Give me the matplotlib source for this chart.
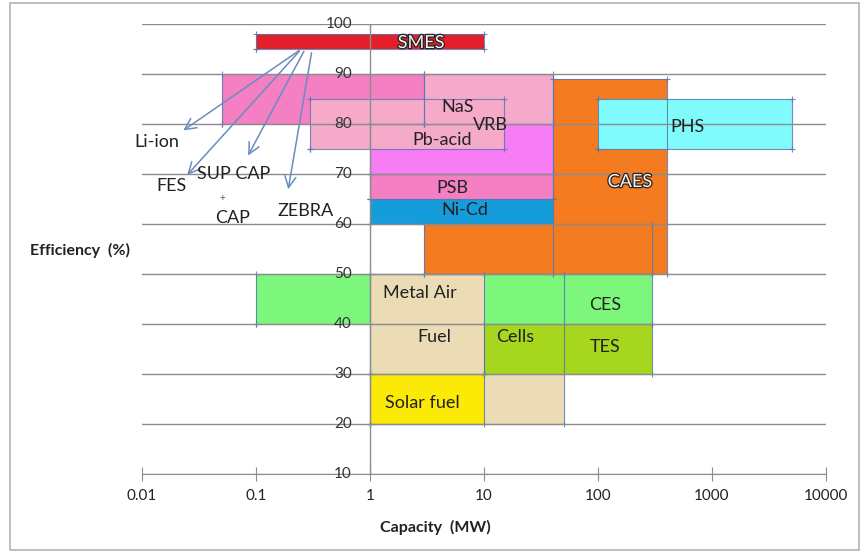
import numpy as np
import matplotlib
matplotlib.use("Agg")
import matplotlib.pyplot as plt
import matplotlib.patheffects as pe
from matplotlib.patches import Rectangle

plt.rcParams['font.family'] = ['Lato', 'DejaVu Sans']

# blocks: capacity range (MW) and efficiency range (%), drawn in this order
blocks = ['CAES low', 'CAES', 'Li-ion', 'NaS', 'VRB', 'Pb-acid', 'PSB', 'Ni-Cd', 'PHS', 'SMES',
          'Fuel Cells', 'CES', 'Metal Air', 'TES', 'Solar fuel']
cap_lo = [3, 40, 0.05, 3, 1, 0.3, 1, 1, 100, 0.1, 1, 0.1, 1, 10, 1]
cap_hi = [300, 400, 3, 40, 40, 15, 40, 40, 5000, 10, 50, 300, 10, 300, 10]
eff_lo = [50, 50, 80, 80, 70, 75, 65, 60, 75, 95, 20, 40, 30, 30, 20]
eff_hi = [60, 89, 90, 90, 80, 85, 70, 65, 85, 98, 50, 50, 50, 40, 30]
colors = ['#f57b20', '#f57b20', '#f47fc2', '#f6aac9', '#f67df4', '#f6aac9', '#f47fc2', '#159ddb',
          '#80fbfb', '#e3202a', '#ecdcb6', '#7cf77c', '#ecdcb6', '#a6d61e', '#fbe906']

# text labels
lab_text = ['SMES', 'NaS', 'VRB', 'Pb-acid', 'PSB', 'Ni-Cd', 'CAES', 'PHS', 'Metal Air', 'Fuel',
            'Cells', 'CES', 'TES', 'Solar fuel', 'Li-ion', 'FES', 'SUP CAP', '+', 'CAP', 'ZEBRA']
lab_x = [2.8, 5.9, 11.3, 4.3, 5.3, 6.8, 190, 615, 2.75, 3.7,
         18.7, 115, 115, 2.9, 0.0135, 0.018, 0.064, 0.051, 0.062, 0.27]
lab_y = [96.2, 83.4, 79.8, 76.8, 67.2, 62.8, 68.4, 79.4, 46.2, 37.4,
         37.4, 43.8, 35.4, 24.2, 76.4, 67.6, 70.0, 65.2, 61.2, 62.6]

# arrows from SMES bar to the small devices
arr_from = [(0.25, 95), (0.25, 95), (0.27, 95), (0.31, 94.8)]
arr_to = [(0.022, 78.4), (0.024, 69.4), (0.083, 73.2), (0.19, 66.4)]

xticks = [0.01, 0.1, 1, 10, 100, 1000, 10000]
xticklabels = ['0.01', '0.1', '1', '10', '100', '1000', '10000']
yticks = list(range(10, 101, 10))

fig = plt.figure(figsize=(8.62, 5.52), dpi=100)
ax = fig.add_axes([142/862, 1-474/552, 684/862, 450/552])
ax.set_xscale('log')
ax.set_xlim(0.01, 10000)
ax.set_ylim(10, 100)

edge = '#5a78b0'
for i in range(len(blocks)):
    x0, x1, y0, y1 = cap_lo[i], cap_hi[i], eff_lo[i], eff_hi[i]
    ax.add_patch(Rectangle((x0, y0), x1-x0, y1-y0, facecolor=colors[i], edgecolor='none', zorder=1))
    ax.plot([x0, x1, x1, x0, x0], [y0, y0, y1, y1, y0], color=edge, lw=0.8, alpha=0.85,
            marker='+', ms=4, mew=0.8, zorder=1.5)

# grid and axes lines
for v in yticks:
    ax.axhline(v, color='#8c8c8c', lw=1, zorder=2)
ax.axvline(1, color='#8c8c8c', lw=1, zorder=2)
for s in ['top', 'right', 'left']:
    ax.spines[s].set_visible(False)
ax.spines['bottom'].set_color('#8c8c8c')
ax.set_xticks(xticks)
ax.set_xticklabels(xticklabels)
ax.minorticks_off()
ax.tick_params(axis='x', direction='inout', length=10, color='#8c8c8c', labelsize=11,
               labelcolor='#222222', pad=6)
ax.set_yticks([])
for v in yticks:
    ax.annotate(str(v), (1, v), xytext=(-13, 0), textcoords='offset points',
                ha='right', va='center', fontsize=11, color='#333333', zorder=6)

outlined = ['SMES', 'CAES']
for t, x, y in zip(lab_text, lab_x, lab_y):
    if t in outlined:
        ax.text(x, y, t, ha='center', va='center', fontsize=13, color='#f4f4f4', zorder=5,
                path_effects=[pe.withStroke(linewidth=1.8, foreground='#222222')])
    elif t == '+':
        ax.text(x, y, t, ha='center', va='center', fontsize=7, color='#555555', zorder=5)
    else:
        ax.text(x, y, t, ha='center', va='center', fontsize=13, color='#222222', zorder=5)

for (fx, fy), (tx, ty) in zip(arr_from, arr_to):
    ax.annotate('', xy=(tx, ty), xytext=(fx, fy), zorder=4,
                arrowprops=dict(arrowstyle='->,head_length=0.8,head_width=0.4',
                                color='#6a8cc0', lw=1.1))

fig.text(30/862, 1-250/552, 'Efficiency  (%)', fontsize=11.5, fontweight='bold',
         ha='left', va='center', color='#222222')
fig.text(435/862, 1-527/552, 'Capacity  (MW)', fontsize=11.5, fontweight='bold',
         ha='center', va='center', color='#222222')

fig.add_artist(Rectangle((10/862, 2/552), 849/862, 547/552, transform=fig.transFigure,
                         fill=False, edgecolor='#b4b4b4', lw=1.2))

fig.savefig('out.png', dpi=100)
